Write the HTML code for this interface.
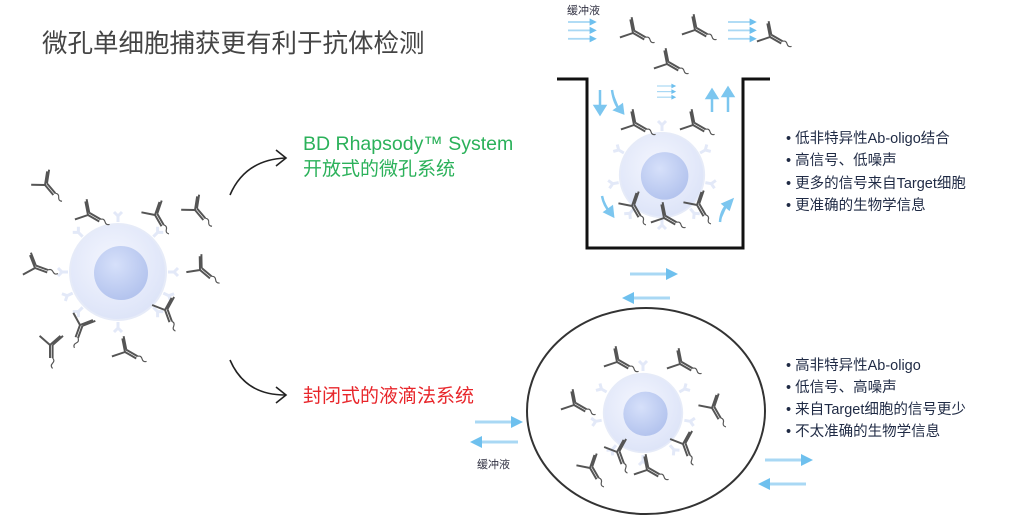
<!DOCTYPE html>
<html><head><meta charset="utf-8"><style>
html,body{margin:0;padding:0;background:#fff;width:1024px;height:523px;overflow:hidden}
svg text{font-family:"Liberation Sans","Noto Sans CJK SC",sans-serif}
</style></head><body>
<svg width="1024" height="523" viewBox="0 0 1024 523" xmlns="http://www.w3.org/2000/svg">
<defs>
<radialGradient id="cg" cx="45%" cy="40%" r="60%"><stop offset="0" stop-color="#f4f6fe"/><stop offset="1" stop-color="#dde4f8"/></radialGradient>
<radialGradient id="ng" cx="40%" cy="35%" r="65%"><stop offset="0" stop-color="#d6e0fa"/><stop offset="1" stop-color="#b4c4ee"/></radialGradient>
<g id="ab" fill="none" stroke="#555" stroke-width="1.5" transform="scale(1.3)">
<path d="M0 0 L0 10 M0 0 L-8 -7 M0 0 L8 -7 M2 0 L2 10 M2 0 L10 -7"/>
<path d="M2 10 q2 2 0 4 q-2 2 0 4" stroke-width="0.9"/>
</g>
<g id="rc" fill="none" stroke="#e3e9f8" stroke-width="3"><path d="M0 0 L0 -6 M0 -6 L-4 -10 M0 -6 L4 -10"/></g>
<g id="arR"><rect x="0" y="-1.5" width="38" height="3" fill="#a9d8f4"/><path d="M36 -6 L48 0 L36 6Z" fill="#6ec0ee"/></g>
<g id="arL"><rect x="10" y="-1.5" width="38" height="3" fill="#a9d8f4"/><path d="M12 -6 L0 0 L12 6Z" fill="#6ec0ee"/></g>
<g id="cell">
<circle r="48" fill="url(#cg)" stroke="#e6ebf8" stroke-width="2"/>
<circle cx="3" cy="1" r="27" fill="url(#ng)"/>
</g>
</defs>

<text x="42" y="52" font-size="25.5" fill="#444">微孔单细胞捕获更有利于抗体检测</text>

<g transform="translate(118,272)">
<use href="#rc" transform="rotate(0) translate(0,-50)"/><use href="#rc" transform="rotate(-45) translate(0,-50)"/><use href="#rc" transform="rotate(45) translate(0,-50)"/><use href="#rc" transform="rotate(-90) translate(0,-50)"/><use href="#rc" transform="rotate(90) translate(0,-50)"/><use href="#rc" transform="rotate(135) translate(0,-50)"/><use href="#rc" transform="rotate(180) translate(0,-50)"/><use href="#rc" transform="rotate(-135) translate(0,-50)"/><use href="#rc" transform="rotate(-115) translate(0,-50)"/><use href="#rc" transform="rotate(115) translate(0,-50)"/>
<use href="#cell"/>
</g>
<use href="#ab" transform="translate(45,185) rotate(-40)"/>
<use href="#ab" transform="translate(88,215) rotate(-60)"/>
<use href="#ab" transform="translate(155,215) rotate(-30)"/>
<use href="#ab" transform="translate(195,210) rotate(-40)"/>
<use href="#ab" transform="translate(35,268) rotate(-70)"/>
<use href="#ab" transform="translate(200,270) rotate(-50)"/>
<use href="#ab" transform="translate(80,325) rotate(20)"/>
<use href="#ab" transform="translate(165,310) rotate(-20)"/>
<use href="#ab" transform="translate(50,345) rotate(0)"/>
<use href="#ab" transform="translate(125,352) rotate(-60)"/>

<path d="M230 195 Q245 160 285 158" fill="none" stroke="#222" stroke-width="1.6"/>
<path d="M276 150 L286 158 L276 166" fill="none" stroke="#222" stroke-width="1.6"/>
<path d="M230 360 Q245 395 285 395" fill="none" stroke="#222" stroke-width="1.6"/>
<path d="M276 387 L286 395 L276 403" fill="none" stroke="#222" stroke-width="1.6"/>

<text x="303" y="150" font-size="19.5" fill="#2bb15a">BD Rhapsody™ System</text>
<text x="303" y="175" font-size="19" fill="#2bb15a">开放式的微孔系统</text>
<text x="303" y="402" font-size="19" fill="#e8262b">封闭式的液滴法系统</text>

<path d="M557 79 L587 79 L587 248 L743 248 L743 79 L770 79" fill="none" stroke="#111" stroke-width="3"/>
<text x="567" y="14" font-size="11" fill="#334">缓冲液</text>
<g transform="translate(568,22) scale(0.6)"><use href="#arR"/><use href="#arR" y="14"/><use href="#arR" y="28"/></g>
<g transform="translate(728,22) scale(0.6)"><use href="#arR"/><use href="#arR" y="14"/><use href="#arR" y="28"/></g>
<g transform="translate(657,86) scale(0.4)"><use href="#arR"/><use href="#arR" y="14"/><use href="#arR" y="28"/></g>
<use href="#ab" transform="translate(633,33) rotate(-60)"/>
<use href="#ab" transform="translate(695,30) rotate(-60)"/>
<use href="#ab" transform="translate(770,37) rotate(-60)"/>
<use href="#ab" transform="translate(667,64) rotate(-60)"/>
<g stroke="#7cc6ef" stroke-width="2.5" fill="#7cc6ef">
<path d="M600 90 L600 108" /><path d="M595 106 L600 114 L605 106Z"/>
<path d="M612 90 Q614 104 620 110"/><path d="M615 110 L623 113 L622 105Z"/>
<path d="M712 112 L712 96"/><path d="M707 98 L712 90 L717 98Z"/>
<path d="M728 112 L728 94"/><path d="M723 96 L728 88 L733 96Z"/>
<path d="M602 196 Q604 206 610 212"/><path d="M605 212 L613 216 L612 207Z"/>
<path d="M720 222 Q721 210 728 204"/><path d="M723 204 L732 200 L729 209Z"/>
</g>
<g transform="translate(662,175)">
<use href="#rc" transform="rotate(0) translate(0,-44)"/><use href="#rc" transform="rotate(-60) translate(0,-44)"/><use href="#rc" transform="rotate(60) translate(0,-44)"/><use href="#rc" transform="rotate(-100) translate(0,-44)"/><use href="#rc" transform="rotate(100) translate(0,-44)"/><use href="#rc" transform="rotate(140) translate(0,-44)"/><use href="#rc" transform="rotate(-140) translate(0,-44)"/><use href="#rc" transform="rotate(180) translate(0,-44)"/>
<g transform="scale(0.88)"><use href="#cell"/></g>
</g>
<use href="#ab" transform="translate(634,125) rotate(-60)"/>
<use href="#ab" transform="translate(693,125) rotate(-60)"/>
<use href="#ab" transform="translate(632,206) rotate(-30)"/>
<use href="#ab" transform="translate(697,205) rotate(-30)"/>
<use href="#ab" transform="translate(664,218) rotate(-60)"/>

<g font-size="14.5" fill="#1f2a44">
<text x="786" y="143">•  低非特异性Ab-oligo结合</text>
<text x="786" y="165">•  高信号、低噪声</text>
<text x="786" y="188">•  更多的信号来自Target细胞</text>
<text x="786" y="210">•  更准确的生物学信息</text>
<text x="786" y="370">•  高非特异性Ab-oligo</text>
<text x="786" y="392">•  低信号、高噪声</text>
<text x="786" y="414">•  来自Target细胞的信号更少</text>
<text x="786" y="436">•  不太准确的生物学信息</text>
</g>

<use href="#arR" transform="translate(630,274)"/>
<use href="#arL" transform="translate(622,298)"/>
<ellipse cx="646" cy="411" rx="119" ry="103" fill="none" stroke="#333" stroke-width="2"/>
<use href="#arR" transform="translate(475,422)"/>
<use href="#arL" transform="translate(470,442)"/>
<text x="477" y="468" font-size="11" fill="#334">缓冲液</text>
<use href="#arR" transform="translate(765,460)"/>
<use href="#arL" transform="translate(758,484)"/>
<g transform="translate(643,413)">
<use href="#rc" transform="rotate(0) translate(0,-42)"/><use href="#rc" transform="rotate(-60) translate(0,-42)"/><use href="#rc" transform="rotate(60) translate(0,-42)"/><use href="#rc" transform="rotate(-100) translate(0,-42)"/><use href="#rc" transform="rotate(100) translate(0,-42)"/><use href="#rc" transform="rotate(140) translate(0,-42)"/><use href="#rc" transform="rotate(-140) translate(0,-42)"/><use href="#rc" transform="rotate(180) translate(0,-42)"/>
<g transform="scale(0.82)"><use href="#cell"/></g>
</g>
<use href="#ab" transform="translate(617,362) rotate(-60)"/>
<use href="#ab" transform="translate(680,364) rotate(-60)"/>
<use href="#ab" transform="translate(574,405) rotate(-60)"/>
<use href="#ab" transform="translate(712,408) rotate(-30)"/>
<use href="#ab" transform="translate(683,444) rotate(-20)"/>
<use href="#ab" transform="translate(617,452) rotate(-20)"/>
<use href="#ab" transform="translate(590,468) rotate(-30)"/>
<use href="#ab" transform="translate(647,470) rotate(-60)"/>
</svg>
</body></html>
